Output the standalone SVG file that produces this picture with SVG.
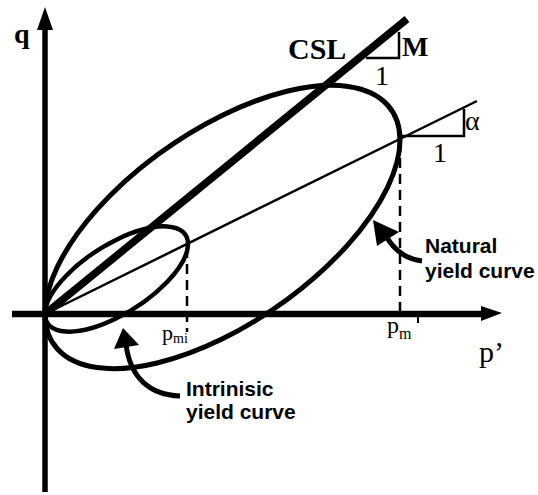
<svg xmlns="http://www.w3.org/2000/svg" width="538" height="495" viewBox="0 0 538 495">
<style>
.ln{fill:none;stroke:#000;stroke-linecap:butt}
.serif{font-family:"Liberation Serif","Times New Roman",serif;fill:#000}
.sans{font-family:"Liberation Sans",Arial,sans-serif;font-weight:bold;fill:#000;font-size:21px}
.dash{fill:none;stroke:#000;stroke-width:2.5;stroke-dasharray:10 6}
</style>
<rect width="538" height="495" fill="#fff"/>
<g id="axes">
<line class="ln" x1="45" y1="25" x2="45" y2="492" stroke-width="5.5"/>
<polygon points="45,7 37,30 53,30" fill="#000"/>
<line class="ln" x1="12" y1="314" x2="486" y2="314" stroke-width="6.5"/>
<polygon points="502,313 481,306 481,321" fill="#000"/>
<line class="ln" x1="418" y1="316" x2="418" y2="323" stroke-width="2"/>
<text class="serif" x="14" y="43" font-size="28" font-weight="bold">q</text>
<text class="serif" x="479" y="362" font-size="30">p’</text>
</g>
<g id="csl">
<line class="ln" x1="45" y1="314" x2="407" y2="19" stroke-width="7.5"/>
<polyline class="ln" points="366,58 399,58 399,32" stroke-width="2.5"/>
<text class="serif" x="288" y="59" font-size="30" font-weight="bold">CSL</text>
<text class="serif" x="402" y="56" font-size="28" font-weight="bold">M</text>
<text class="serif" x="375" y="85" font-size="28">1</text>
</g>
<g id="alpha-line">
<line class="ln" x1="45" y1="314" x2="477" y2="101" stroke-width="2.5"/>
<polyline class="ln" points="402,136 464,136 464,109" stroke-width="2.5"/>
<text class="serif" x="465" y="130" font-size="28">α</text>
<text class="serif" x="433" y="162" font-size="28">1</text>
</g>
<g id="natural-yield-curve">
<circle cx="0" cy="0" r="177.5" fill="none" stroke="#000" stroke-width="5" vector-effect="non-scaling-stroke" transform="matrix(1,-0.49,0,0.63,222.5,227)"/>
<line class="dash" x1="400" y1="142" x2="400" y2="311"/>
<text class="serif" x="387" y="333" font-size="24">p</text>
<text class="serif" x="399" y="339" font-size="16">m</text>
<text class="sans" x="425" y="253">Natural</text>
<text class="sans" x="425" y="278">yield curve</text>
</g>
<g id="intrinsic-yield-curve">
<circle cx="0" cy="0" r="71.5" fill="none" stroke="#000" stroke-width="4.5" vector-effect="non-scaling-stroke" transform="matrix(1,-0.49,0,0.55,116.5,279)"/>
<line class="dash" x1="187" y1="248" x2="187" y2="332"/>
<text class="serif" x="162" y="340" font-size="22">p</text>
<text class="serif" x="173" y="343" font-size="14">mi</text>
<text class="sans" x="186" y="396">Intrinisic</text>
<text class="sans" x="186" y="419">yield curve</text>
</g>
<g id="connectors">
<path class="ln" d="M386,236 C394,250 405,259 422,261" stroke-width="5"/>
<polygon points="373,220 377,246 399,232" fill="#000"/>
<path class="ln" d="M126,344 C130,378 150,395 180,396" stroke-width="5"/>
<polygon points="123,328 114,349 139,345" fill="#000"/>
</g>
</svg>
